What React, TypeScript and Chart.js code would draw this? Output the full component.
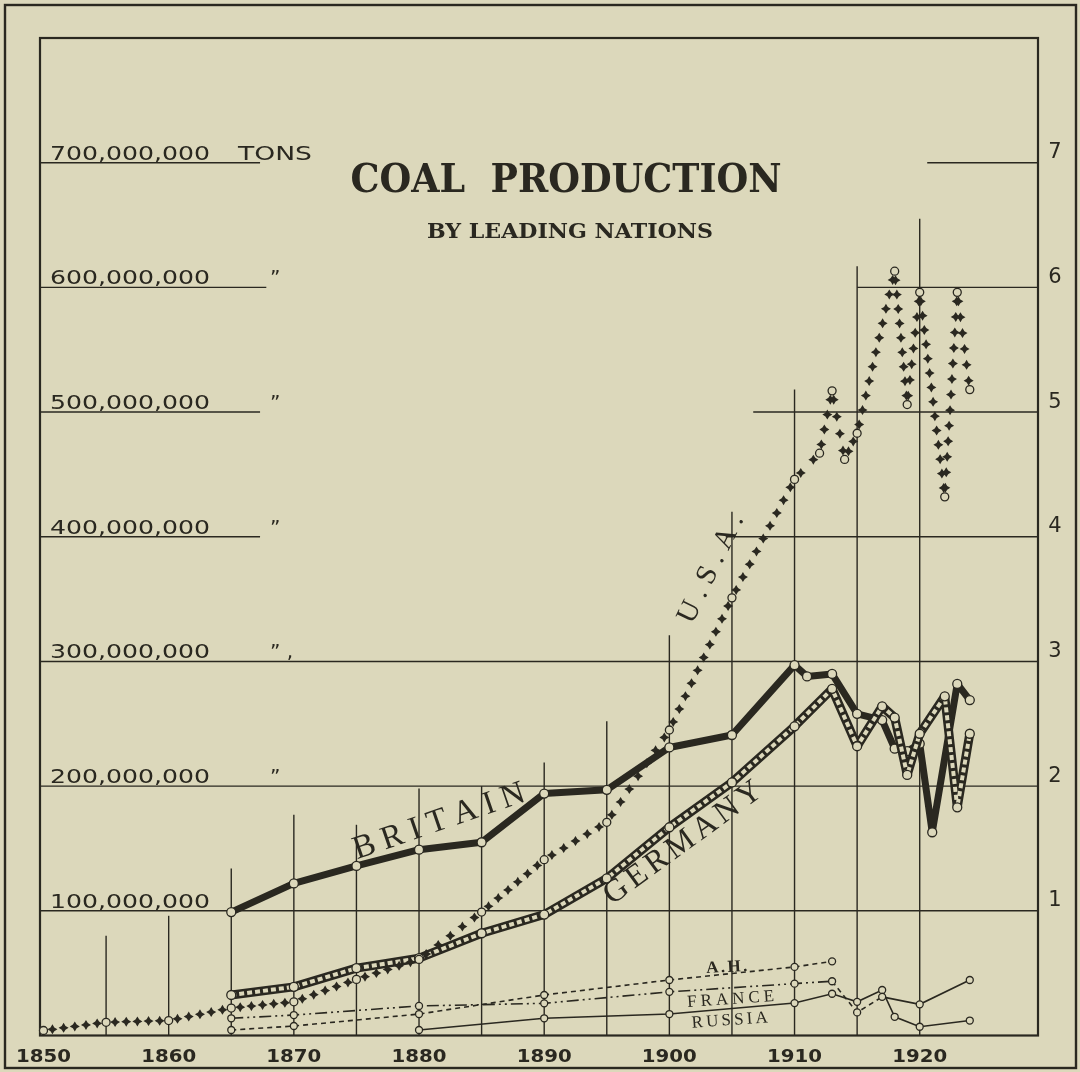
import React, { useEffect, useRef } from 'react';
import { Chart, registerables } from 'chart.js';

Chart.register(...registerables);

const PAPER = '#dcd8bb';
const INK = '#2a2820';

// ---- data (million metric tons) ----
const usaYears = [1850, 1855, 1860, 1865, 1870, 1875, 1880, 1885, 1890, 1895, 1900, 1905, 1910, 1912, 1913, 1914, 1915, 1918, 1919, 1920, 1922, 1923, 1924];
const usaValues = [4, 10.6, 12, 22, 27, 45, 61, 99, 141, 171, 245, 351, 446, 467, 517, 462, 483, 613, 506, 596, 432, 596, 518];

const britainYears = [1865, 1870, 1875, 1880, 1885, 1890, 1895, 1900, 1905, 1910, 1911, 1913, 1915, 1917, 1918, 1919, 1920, 1921, 1923, 1924];
const britainValues = [99, 122, 136, 149, 155, 194, 197, 231, 241, 297, 288, 290, 258, 253, 230, 228, 234, 163, 282, 269];

const germanyYears = [1865, 1870, 1875, 1880, 1885, 1890, 1895, 1900, 1905, 1910, 1913, 1915, 1917, 1918, 1919, 1920, 1922, 1923, 1924];
const germanyValues = [32.5, 39, 54, 62, 82, 97, 126, 167, 203, 248, 278, 232, 264, 255, 209, 242, 272, 183, 242];

const ahYears = [1865, 1870, 1880, 1890, 1900, 1910, 1913];
const ahValues = [4.4, 7.6, 17.2, 32.5, 44.5, 55, 59.5];

const franceYears = [1865, 1870, 1880, 1890, 1900, 1910, 1913, 1915, 1917, 1920, 1924];
const franceValues = [13.8, 16.4, 23.7, 25.8, 35, 41.6, 43.5, 18.5, 31, 25, 44.5];

const russiaYears = [1880, 1890, 1900, 1910, 1913, 1915, 1917, 1918, 1920, 1924];
const russiaValues = [4.4, 13.8, 17.2, 26, 33.5, 27, 36.5, 15, 7, 12];

// ---- axes / ticks ----
const X_MIN = 1849.72;
const X_MAX = 1929.45;
const Y_MIN = 0;
const Y_MAX = 800;

const xTickYears = [1850, 1860, 1870, 1880, 1890, 1900, 1910, 1920];
const xTickLabels = ['1850', '1860', '1870', '1880', '1890', '1900', '1910', '1920'];

const yTickValues = [100, 200, 300, 400, 500, 600, 700];
const yTickLabels = ['100,000,000', '200,000,000', '300,000,000', '400,000,000', '500,000,000', '600,000,000', '700,000,000'];
const yTickSuffix = ['', '\u201D', '\u201D ,', '\u201D', '\u201D', '\u201D', 'TONS'];
const rightTickLabels = ['1', '2', '3', '4', '5', '6', '7'];

// partial grid (data units)
const vGridYears = [1855, 1860, 1865, 1870, 1875, 1880, 1885, 1890, 1895, 1900, 1905, 1910, 1915, 1920];
const vGridTops = [80, 96, 134, 177, 169, 198, 200, 219, 252, 321, 420, 518, 617, 655];
const hGridSegments = [
  [[X_MIN, X_MAX]],
  [[X_MIN, X_MAX]],
  [[X_MIN, X_MAX]],
  [[X_MIN, 1867.3], [1904.5, X_MAX]],
  [[X_MIN, 1867.3], [1906.7, X_MAX]],
  [[X_MIN, 1867.8], [1915, X_MAX]],
  [[X_MIN, 1867.3], [1920.6, X_MAX]],
];

const toPoints = (xs: number[], ys: number[]) => xs.map((x, i) => ({ x, y: ys[i] }));

function fitText(ctx: CanvasRenderingContext2D, text: string, x: number, y: number, width: number, align: CanvasTextAlign) {
  const w = ctx.measureText(text).width;
  ctx.save();
  ctx.translate(x, y);
  ctx.scale(width / w, 1);
  ctx.textAlign = align;
  ctx.fillText(text, 0, 0);
  ctx.restore();
}

function spacedText(ctx: CanvasRenderingContext2D, text: string, cx: number, cy: number, angle: number, width: number) {
  const chars = Array.from(text);
  const widths = chars.map((c) => ctx.measureText(c).width);
  const sum = widths.reduce((a, b) => a + b, 0);
  const gap = chars.length > 1 ? (width - sum) / (chars.length - 1) : 0;
  ctx.save();
  ctx.translate(cx, cy);
  ctx.rotate((angle * Math.PI) / 180);
  ctx.textAlign = 'left';
  ctx.textBaseline = 'alphabetic';
  let x = -width / 2;
  chars.forEach((c, i) => {
    ctx.fillText(c, x, 0);
    x += widths[i] + gap;
  });
  ctx.restore();
}

function star(ctx: CanvasRenderingContext2D, x: number, y: number, r: number, w: number) {
  ctx.beginPath();
  ctx.moveTo(x, y - r);
  ctx.lineTo(x + w, y - w);
  ctx.lineTo(x + r, y);
  ctx.lineTo(x + w, y + w);
  ctx.lineTo(x, y + r);
  ctx.lineTo(x - w, y + w);
  ctx.lineTo(x - r, y);
  ctx.lineTo(x - w, y - w);
  ctx.closePath();
  ctx.fill();
}

const paperPlugin = {
  id: 'paper',
  beforeDraw(chart: any) {
    const { ctx, chartArea: a } = chart;
    const xs = chart.scales.x;
    const ys = chart.scales.y;
    ctx.save();
    ctx.fillStyle = PAPER;
    ctx.fillRect(0, 0, chart.width, chart.height);
    ctx.strokeStyle = INK;
    ctx.fillStyle = INK;

    // outer frame
    ctx.lineWidth = 2.4;
    ctx.strokeRect(5, 5, chart.width - 9, chart.height - 9);

    // grid
    ctx.lineWidth = 1.4;
    vGridYears.forEach((yr, i) => {
      const px = xs.getPixelForValue(yr);
      ctx.beginPath();
      ctx.moveTo(px, a.bottom);
      ctx.lineTo(px, ys.getPixelForValue(vGridTops[i]));
      ctx.stroke();
    });
    yTickValues.forEach((v, i) => {
      const py = ys.getPixelForValue(v);
      hGridSegments[i].forEach(([s, e]) => {
        ctx.beginPath();
        ctx.moveTo(xs.getPixelForValue(s), py);
        ctx.lineTo(xs.getPixelForValue(e), py);
        ctx.stroke();
      });
    });

    // inner frame
    ctx.lineWidth = 2.2;
    ctx.strokeRect(a.left, a.top, a.right - a.left, a.bottom - a.top);

    // left value labels
    ctx.textBaseline = 'alphabetic';
    ctx.font = '20px "DejaVu Sans"';
    yTickValues.forEach((v, i) => {
      const py = ys.getPixelForValue(v) - 3;
      fitText(ctx, yTickLabels[i], a.left + 10, py, 160, 'left');
      const suf = yTickSuffix[i];
      if (suf === 'TONS') {
        fitText(ctx, suf, a.left + 198, py, 74, 'left');
      } else if (suf) {
        ctx.textAlign = 'left';
        ctx.fillText(suf, a.left + 230, py);
      }
    });

    // right scale numbers
    ctx.font = '21px "DejaVu Sans"';
    ctx.textAlign = 'center';
    ctx.textBaseline = 'middle';
    yTickValues.forEach((v, i) => {
      ctx.fillText(rightTickLabels[i], a.right + 17, ys.getPixelForValue(v) - 10);
    });

    // x labels
    ctx.font = 'bold 18px "DejaVu Sans"';
    ctx.textBaseline = 'middle';
    xTickYears.forEach((yr, i) => {
      fitText(ctx, xTickLabels[i], xs.getPixelForValue(yr), a.bottom + 22, 55, 'center');
    });

    // title
    ctx.textBaseline = 'alphabetic';
    ctx.font = 'bold 39px "DejaVu Serif"';
    fitText(ctx, 'COAL  PRODUCTION', 566, 192, 431, 'center');
    ctx.font = 'bold 20px "DejaVu Serif"';
    fitText(ctx, 'BY LEADING NATIONS', 570, 238, 286, 'center');
    ctx.restore();
  },
};

const crossPlugin = {
  id: 'crosses',
  beforeDatasetDraw(chart: any, args: any) {
    const ds = chart.data.datasets[args.index];
    if (!ds.crosses) return;
    const pts = args.meta.data;
    const ctx = chart.ctx;
    ctx.save();
    ctx.fillStyle = INK;
    for (let i = 0; i < pts.length - 1; i++) {
      const p0 = pts[i];
      const p1 = pts[i + 1];
      const dx = p1.x - p0.x;
      const dy = p1.y - p0.y;
      const len = Math.hypot(dx, dy);
      const gap = 9;
      const usable = len - 2 * gap;
      if (usable < 0) continue;
      const spacing = 11.5 + 3.5 * Math.abs(dy / len);
      const n = Math.max(1, Math.round(usable / spacing));
      for (let k = 0; k <= n; k++) {
        const t = (gap + (k * usable) / n) / len;
        star(ctx, p0.x + dx * t, p0.y + dy * t, 5, 1.9);
      }
    }
    ctx.restore();
  },
};

const labelPlugin = {
  id: 'labels',
  afterDatasetsDraw(chart: any) {
    const ctx = chart.ctx;
    ctx.save();
    ctx.fillStyle = INK;
    ctx.font = '33px "Liberation Serif"';
    spacedText(ctx, 'BRITAIN', 442, 830, -19, 180);
    ctx.font = '32px "Liberation Serif"';
    spacedText(ctx, 'GERMANY', 688, 850, -36, 188);
    ctx.font = '29px "Liberation Serif"';
    spacedText(ctx, 'U.S.A.', 718, 572, -64, 118);
    ctx.font = 'bold 17px "Liberation Serif"';
    spacedText(ctx, 'A.H.', 727, 972, -3, 41);
    ctx.font = '17px "Liberation Serif"';
    spacedText(ctx, 'FRANCE', 731, 1004, -4, 87);
    spacedText(ctx, 'RUSSIA', 730, 1025, -4, 76);
    ctx.restore();
  },
};

export default function App() {
  const ref = useRef<HTMLCanvasElement>(null);

  useEffect(() => {
    const canvas = ref.current;
    if (!canvas) return;
    const circle = (r: number) => ({
      pointRadius: r,
      pointHoverRadius: r,
      pointBorderWidth: 1.3,
      pointBorderColor: INK,
      pointBackgroundColor: PAPER,
      pointStyle: 'circle',
    });
    const chart = new Chart(canvas, {
      type: 'line',
      data: {
        datasets: [
          {
            label: 'U.S.A.',
            data: toPoints(usaYears, usaValues),
            showLine: false,
            crosses: true,
            clip: false,
            ...circle(4),
          } as any,
          {
            label: 'Germany pattern',
            data: toPoints(germanyYears, germanyValues),
            borderColor: PAPER,
            borderWidth: 4,
            borderDash: [5, 3],
            tension: 0,
            clip: false,
            ...circle(4.5),
          },
          {
            label: 'Germany',
            data: toPoints(germanyYears, germanyValues),
            borderColor: INK,
            borderWidth: 9,
            borderJoinStyle: 'round',
            tension: 0,
            pointRadius: 0,
            clip: false,
          },
          {
            label: 'Britain',
            data: toPoints(britainYears, britainValues),
            borderColor: INK,
            borderWidth: 7,
            borderJoinStyle: 'round',
            tension: 0,
            clip: false,
            ...circle(4.5),
          },
          {
            label: 'A.H.',
            data: toPoints(ahYears, ahValues),
            borderColor: INK,
            borderWidth: 1.6,
            borderDash: [5, 4],
            tension: 0,
            clip: false,
            ...circle(3.5),
          },
          {
            label: 'France',
            data: toPoints(franceYears, franceValues),
            borderColor: INK,
            borderWidth: 1.6,
            tension: 0,
            clip: false,
            segment: {
              borderDash: (c: any) => (c.p0DataIndex >= 8 ? [] : c.p0DataIndex >= 6 ? [5, 4] : [12, 4, 2, 4, 2, 4]),
            },
            ...circle(3.5),
          },
          {
            label: 'Russia',
            data: toPoints(russiaYears, russiaValues),
            borderColor: INK,
            borderWidth: 1.6,
            tension: 0,
            clip: false,
            ...circle(3.5),
          },
        ],
      },
      options: {
        responsive: false,
        animation: false,
        devicePixelRatio: 1,
        events: [],
        layout: { padding: { left: 40, right: 42, top: 38, bottom: 36.5 } },
        plugins: {
          legend: { display: false },
          tooltip: { enabled: false },
          title: { display: false },
        },
        scales: {
          x: { type: 'linear', min: X_MIN, max: X_MAX, display: false },
          y: { type: 'linear', min: Y_MIN, max: Y_MAX, display: false },
        },
      },
      plugins: [paperPlugin, crossPlugin, labelPlugin],
    } as any);
    return () => chart.destroy();
  }, []);

  return (
    <div style={{ position: 'fixed', left: 0, top: 0, width: 1080, height: 1072, background: PAPER }}>
      <canvas ref={ref} width={1080} height={1072} style={{ display: 'block', width: 1080, height: 1072 }} />
    </div>
  );
}
